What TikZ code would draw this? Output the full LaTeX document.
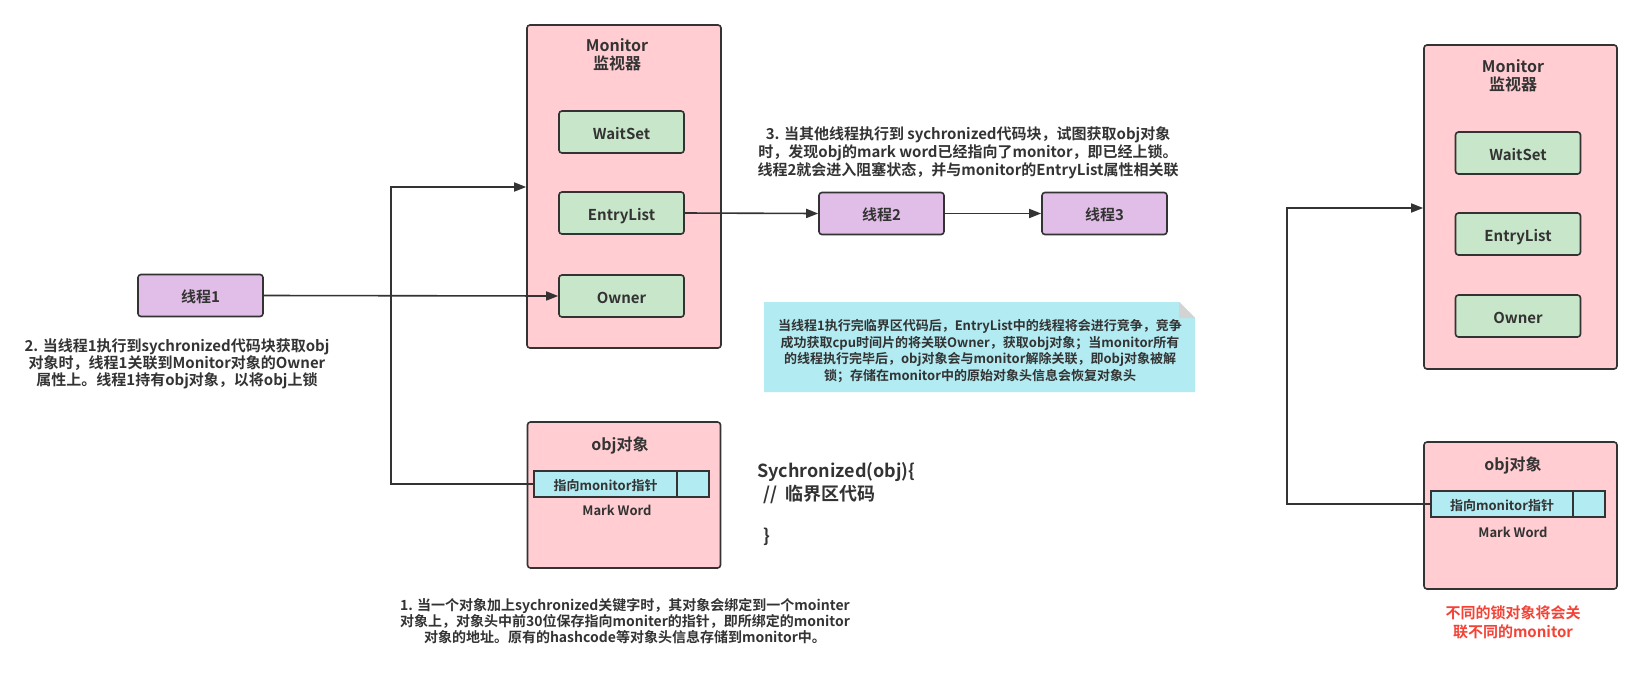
\documentclass[tikz,border=0pt]{standalone}
\usepackage{fontspec}
\setmainfont{Noto Sans CJK SC Bold}
\usetikzlibrary{arrows.meta}
\definecolor{txt}{HTML}{333333}
\definecolor{pinkf}{HTML}{FFCDD2}
\definecolor{greenf}{HTML}{C8E6C9}
\definecolor{purplef}{HTML}{E1BEE7}
\definecolor{cyanf}{HTML}{B2EBF2}
\definecolor{foldc}{HTML}{D3D3D3}
\definecolor{redt}{HTML}{F44336}
\tikzset{
  base/.style={draw=txt, line width=1.6pt, rounded corners=3pt, inner sep=0pt, text=txt},
  bigbox/.style={base, fill=pinkf},
  slot/.style={base, fill=greenf, minimum width=125pt, minimum height=42pt, text height=14pt, text depth=0pt, font=\fontsize{15}{18}\selectfont},
  thread/.style={base, fill=purplef, minimum width=125pt, minimum height=42pt, text height=14pt, text depth=0pt, font=\fontsize{15}{18}\selectfont},
  bar/.style={draw=txt, line width=1.6pt, fill=cyanf, inner sep=0pt, minimum height=26pt, text height=12pt, text depth=0pt, text=txt, font=\fontsize{13}{16}\selectfont},
  lbl/.style={text=txt, inner sep=0pt, align=center},
  conn/.style={draw=txt, line width=1.6pt},
  arr/.style={conn, -{Triangle[length=12pt,width=9pt]}},
}
\begin{document}
\begin{tikzpicture}[x=1pt,y=-1pt]
\useasboundingbox (0,0) rectangle (1641,683);
\fill[white] (0,0) rectangle (1641,683);

% ---- left monitor
\node[bigbox, minimum width=194pt, minimum height=323pt] (mon1) at (624,186.5) {};
\node[lbl, font=\fontsize{16}{18}\selectfont] (mon1t) at (617,55) {Monitor\\监视器};
\node[slot] (ws1) at (621.5,132) {WaitSet};
\node[slot] (el1) at (621.5,213) {EntryList};
\node[slot] (ow1) at (621.5,296) {Owner};

% ---- threads
\node[thread] (t1) at (200.5,295.5) {线程1};
\node[thread] (t2) at (881.5,213.5) {线程2};
\node[thread] (t3) at (1104.5,213.5) {线程3};

% ---- left obj
\node[bigbox, minimum width=193pt, minimum height=146pt] (obj1) at (624,495) {};
\node[lbl, font=\fontsize{16}{18}\selectfont] (obj1t) at (620,445) {obj对象};
\node[bar, minimum width=143pt] (mw1a) at (605.5,484) {指向monitor指针};
\node[bar, minimum width=32pt] (mw1b) at (693,484) {};
\node[lbl, font=\fontsize{13}{16}\selectfont] (mw1l) at (617,510) {Mark Word};

% ---- right monitor
\node[bigbox, minimum width=193pt, minimum height=324pt] (mon2) at (1520.5,207) {};
\node[lbl, font=\fontsize{16}{18}\selectfont] (mon2t) at (1513,76) {Monitor\\监视器};
\node[slot] (ws2) at (1518,153) {WaitSet};
\node[slot] (el2) at (1518,234) {EntryList};
\node[slot] (ow2) at (1518,316) {Owner};

% ---- right obj
\node[bigbox, minimum width=193pt, minimum height=147pt] (obj2) at (1520.5,515.5) {};
\node[lbl, font=\fontsize{16}{18}\selectfont] (obj2t) at (1513,465) {obj对象};
\node[bar, minimum width=142pt] (mw2a) at (1502,504) {指向monitor指针};
\node[bar, minimum width=32pt] (mw2b) at (1589,504) {};
\node[lbl, font=\fontsize{13}{16}\selectfont] (mw2l) at (1513,532) {Mark Word};

% ---- connectors
\draw[arr] (t1.east) -- (ow1.west);
\draw[arr] (el1.east) -- (t2.west);
\draw[arr] (t2.east) -- (t3.west);
\coordinate (j1) at (391,187);
\draw[arr] (mw1a.west) -| (j1) -- (j1 -| mon1.west);
\coordinate (j2) at (1287,208);
\draw[arr] (mw2a.west) -| (j2) -- (j2 -| mon2.west);

% ---- note
\fill[cyanf] (764,302) -- (1179,302) -- (1195,318) -- (1195,392) -- (764,392) -- cycle;
\fill[foldc] (1179,302) -- (1195,318) -- (1179,318) -- cycle;
\node[lbl, font=\fontsize{13}{16.5}\selectfont] (note) at (980,351) {当线程1执行完临界区代码后，EntryList中的线程将会进行竞争，竞争\\成功获取cpu时间片的将关联Owner，获取obj对象；当monitor所有\\的线程执行完毕后，obj对象会与monitor解除关联，即obj对象被解\\锁；存储在monitor中的原始对象头信息会恢复对象头};

% ---- texts
\node[lbl, font=\fontsize{15}{17}\selectfont] (txt2) at (177,364) {2. 当线程1执行到sychronized代码块获取obj\\对象时，线程1关联到Monitor对象的Owner\\属性上。线程1持有obj对象，以将obj上锁};
\node[lbl, font=\fontsize{15}{18}\selectfont] (txt3) at (968,153) {3. 当其他线程执行到 sychronized代码块，试图获取obj对象\\时，发现obj的mark word已经指向了monitor，即已经上锁。\\线程2就会进入阻塞状态，并与monitor的EntryList属性相关联};
\node[lbl, font=\fontsize{14}{16}\selectfont] (txt1) at (625,621) {1. 当一个对象加上sychronized关键字时，其对象会绑定到一个mointer\\对象上，对象头中前30位保存指向moniter的指针，即所绑定的monitor\\对象的地址。原有的hashcode等对象头信息存储到monitor中。};
\node[lbl, text=redt, font=\fontsize{15}{19}\selectfont] (txtr) at (1513,622.5) {不同的锁对象将会关\\联不同的monitor};

\node[lbl, anchor=west, font=\fontsize{18}{22}\selectfont] (sy1) at (757,472) {Sychronized(obj)\{};
\node[lbl, anchor=west, font=\fontsize{18}{22}\selectfont] (sy2) at (763,494) {//\ \ 临界区代码};
\node[lbl, anchor=west, font=\fontsize{18}{22}\selectfont] (sy3) at (763,537) {\}};
\end{tikzpicture}
\end{document}
